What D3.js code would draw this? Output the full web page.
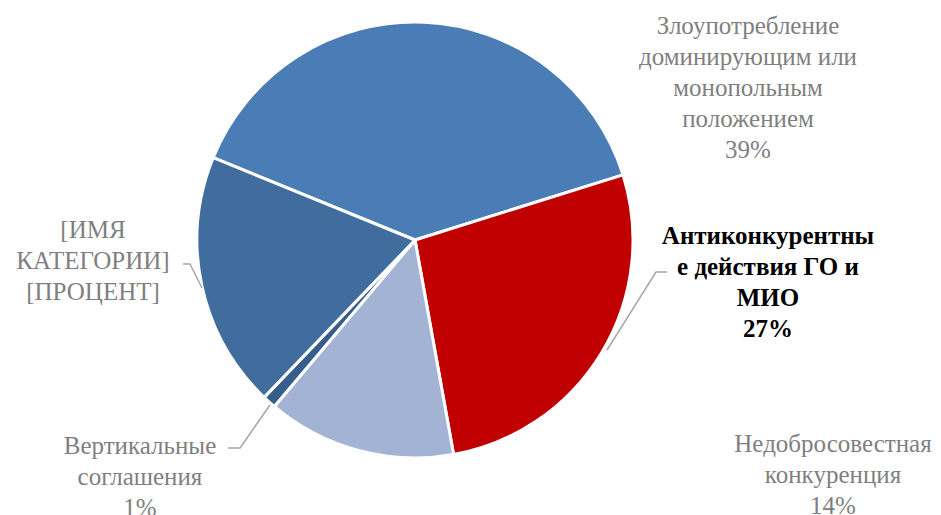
<!DOCTYPE html>
<html>
<head>
<meta charset="utf-8">
<script src="https://cdn.jsdelivr.net/npm/d3@7"></script>
<style>
	body { margin: 0; background: #fff; }
	svg { display: block; }
	.slice-label { font-size: 25px; fill: #7f7f7f; }
	.slice-label.bold { font-weight: bold; fill: #000; }
	.leader { fill: none; stroke: #a6a6a6; stroke-width: 1.5; }
</style>
</head>
<body>
<div id="chart"></div>
<script>
	'use strict';

	// DATA
	var categories = [
		'Злоупотребление доминирующим или монопольным положением',
		'Антиконкурентные действия ГО и МИО',
		'Недобросовестная конкуренция',
		'Вертикальные соглашения',
		'[ИМЯ КАТЕГОРИИ]'
	];
	var values = [39, 27, 14, 1, 19];
	var labelLines = [
		['Злоупотребление', 'доминирующим или', 'монопольным', 'положением', '39%'],
		['Антиконкурентны', 'е действия ГО и', 'МИО', '27%'],
		['Недобросовестная', 'конкуренция', '14%'],
		['Вертикальные', 'соглашения', '1%'],
		['[ИМЯ', 'КАТЕГОРИИ]', '[ПРОЦЕНТ]']
	];
	var colors = ['#4a7cb5', '#c00000', '#a2b3d4', '#365d8c', '#416c9e'];

	// layout
	var width = 941,
		height = 515,
		cx = 415,
		cy = 240,
		radius = 218,
		lineHeight = 31,
		startAngle = -67.8 * Math.PI / 180,
		fontFamily = "'Liberation Serif', 'DejaVu Serif', 'Times New Roman', serif";

	var labelPos = [
		{ x: 748, y: 34, bold: false },
		{ x: 768, y: 244, bold: true },
		{ x: 833, y: 452, bold: false },
		{ x: 140, y: 454, bold: false },
		{ x: 93, y: 238, bold: false }
	];

	var leaders = [
		null,
		[[607, 350], [656, 272], [667, 272]],
		null,
		[[270, 405], [240, 448], [228, 448]],
		[[202, 288], [190, 264], [183, 264]]
	];

	var svg = d3.select('#chart')
		.append('svg')
			.attr('width', width)
			.attr('height', height);

	var pie = d3.pie()
		.sort(null)
		.value(function (d) { return d; })
		.startAngle(startAngle)
		.endAngle(startAngle + 2 * Math.PI);

	var arc = d3.arc()
		.innerRadius(0)
		.outerRadius(radius);

	var g = svg.append('g')
		.attr('transform', 'translate(' + cx + ',' + cy + ')');

	g.selectAll('path.slice')
		.data(pie(values))
		.enter()
		.append('path')
			.attr('class', 'slice')
			.attr('d', arc)
			.attr('fill', function (d, i) { return colors[i]; })
			.attr('stroke', '#fff')
			.attr('stroke-width', 3)
			.attr('stroke-linejoin', 'round');

	// LEADER LINES
	var line = d3.line();
	leaders.forEach(function (pts) {
		if (!pts) { return; }
		svg.append('path')
			.attr('class', 'leader')
			.attr('d', line(pts));
	});

	// LABELS
	labelLines.forEach(function (lines, i) {
		var pos = labelPos[i];
		var text = svg.append('text')
			.attr('class', 'slice-label' + (pos.bold ? ' bold' : ''))
			.style('font-family', fontFamily)
			.attr('text-anchor', 'middle')
			.attr('x', pos.x)
			.attr('y', pos.y);
		lines.forEach(function (l, j) {
			text.append('tspan')
				.attr('x', pos.x)
				.attr('y', pos.y + j * lineHeight)
				.text(l);
		});
	});
</script>
</body>
</html>
